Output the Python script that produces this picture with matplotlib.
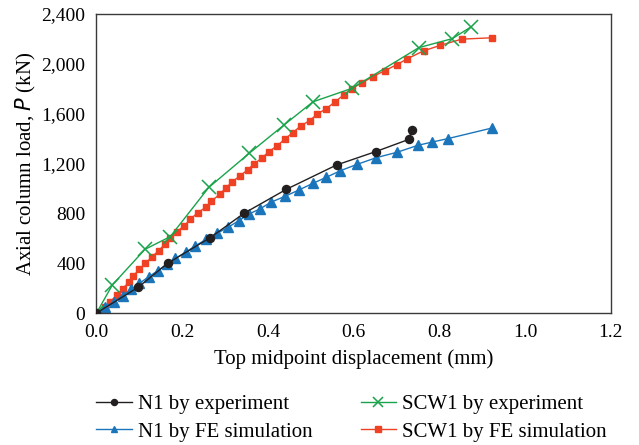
import matplotlib.pyplot as plt
from matplotlib.ticker import FuncFormatter

# N1 by experiment
n1_exp_x = [0.0, 0.097, 0.166, 0.265, 0.344, 0.443, 0.560, 0.651, 0.729, 0.735]
n1_exp_y = [0, 206, 399, 604, 800, 993, 1188, 1295, 1394, 1469]

# N1 by FE simulation
n1_fe_x = [0.0, 0.021, 0.040, 0.061, 0.081, 0.100, 0.122, 0.143, 0.164, 0.184,
           0.208, 0.230, 0.256, 0.281, 0.307, 0.332, 0.356, 0.381, 0.407, 0.440,
           0.472, 0.505, 0.536, 0.569, 0.607, 0.653, 0.701, 0.750, 0.783, 0.819,
           0.923]
n1_fe_y = [0, 51, 91, 139, 190, 238, 291, 340, 391, 439,
           487, 538, 591, 639, 688, 741, 795, 835, 889, 937,
           987, 1041, 1089, 1142, 1192, 1247, 1290, 1346, 1372, 1399,
           1485]

# SCW1 by experiment
scw_exp_x = [0.0, 0.037, 0.113, 0.172, 0.262, 0.356, 0.437, 0.505, 0.595, 0.752, 0.830, 0.874]
scw_exp_y = [0, 225, 511, 613, 1008, 1281, 1508, 1695, 1802, 2130, 2202, 2297]

# SCW1 by FE simulation
scw_fe_x = [0.0, 0.019, 0.032, 0.047, 0.061, 0.075, 0.086, 0.100, 0.114, 0.130,
            0.145, 0.159, 0.172, 0.187, 0.205, 0.219, 0.236, 0.255, 0.268, 0.287,
            0.301, 0.316, 0.334, 0.353, 0.367, 0.385, 0.402, 0.422, 0.440, 0.458,
            0.476, 0.497, 0.515, 0.536, 0.556, 0.577, 0.595, 0.620, 0.644, 0.672,
            0.700, 0.725, 0.763, 0.801, 0.852, 0.922]
scw_fe_y = [0, 46, 91, 142, 195, 246, 299, 350, 398, 452,
            500, 551, 599, 652, 701, 752, 805, 848, 896, 952,
            1000, 1051, 1099, 1150, 1196, 1241, 1295, 1343, 1399, 1447,
            1501, 1543, 1597, 1640, 1693, 1751, 1801, 1848, 1896, 1944,
            1992, 2040, 2104, 2147, 2198, 2209]

plt.rcParams['font.family'] = ['Liberation Serif', 'DejaVu Serif']

fig = plt.figure(figsize=(6.39, 4.45), dpi=100)
ax = fig.add_axes([0.151, 0.2966, 0.805, 0.672])

ax.plot(scw_fe_x, scw_fe_y, color='#ef4123', marker='s', markersize=5, linewidth=1.0,
        label='SCW1 by FE simulation', zorder=2)
ax.plot(scw_exp_x, scw_exp_y, color='#19a34a', marker='x', markersize=9.5, markeredgewidth=1.1,
        linewidth=1.0, label='SCW1 by experiment', zorder=3)
ax.plot(n1_fe_x, n1_fe_y, color='#1b75bb', marker='^', markersize=6.5, linewidth=1.0,
        label='N1 by FE simulation', zorder=2)
ax.plot(n1_exp_x, n1_exp_y, color='#231f20', marker='o', markersize=5.8, linewidth=1.0,
        label='N1 by experiment', zorder=3)

ax.set_xlim(0, 1.2)
ax.set_ylim(0, 2400)
ax.set_xticks([0.0, 0.2, 0.4, 0.6, 0.8, 1.0, 1.2])
ax.set_yticks(range(0, 2401, 400))
ax.yaxis.set_major_formatter(FuncFormatter(lambda v, p: f'{int(v):,}'))
ax.xaxis.set_major_formatter(FuncFormatter(lambda v, p: f'{v:.1f}'))
ax.tick_params(length=0, labelsize=14, pad=8)
for s in ax.spines.values():
    s.set_color('#3a3a3a')
    s.set_linewidth(1.0)

ax.set_xlabel('Top midpoint displacement (mm)', fontsize=15, labelpad=6)
ax.set_ylabel('Axial column load, $\\it{P}$ (kN)', fontsize=15, labelpad=2)

# legend in two columns under the axes
handles, labels = ax.get_legend_handles_labels()
order = [3, 2, 1, 0]
fig.legend([handles[i] for i in order], [labels[i] for i in order],
           loc='upper left', bbox_to_anchor=(0.151, 0.114), ncol=2, frameon=False,
           fontsize=15, handlelength=1.7, columnspacing=2.3, handletextpad=0.3,
           labelspacing=0.4, borderaxespad=0, borderpad=0, markerscale=0.75)

fig.savefig('out.png', dpi=100)
